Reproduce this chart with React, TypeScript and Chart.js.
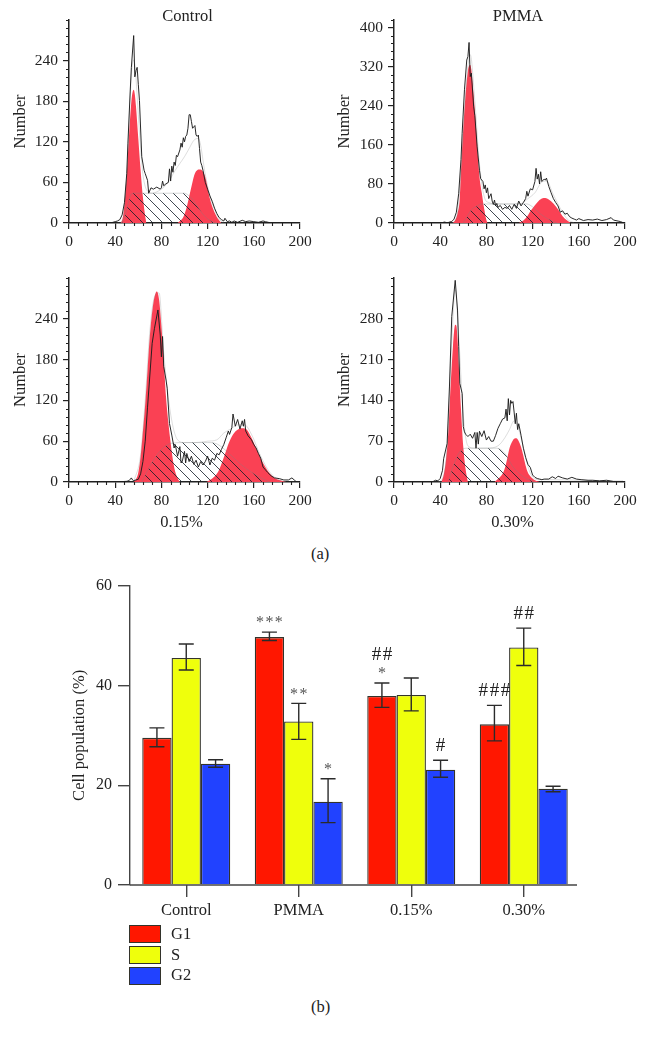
import React, { useEffect, useRef } from "react";
import { Chart, registerables } from "chart.js";

Chart.register(...registerables);

const FONT = '"Liberation Serif", serif';
const INK = "#222222";
const RED_FILL = "#fa4154";

// ---- Histogram: Control ----
const controlX = [0,36,38,40,42,44,46,48,50,51,53,54,56,57,58,59,60,61,63,65,66,68,69,71,73,76,79,80,81,82,84,86,87,88,89,90,91,92,93,94,96,97,98,99,100,101,102,103,104,105,106,107,108,109,110,111,112,113,114,115,116,118,120,122,124,126,128,130,132,134,135,137,139,141,143,146,150,153,156,160,164,168,170,175,200];
const controlY = [0,0,1,2,3,5,12,30,73,117,195,230,277,216,225,230,205,181,98,78,73,63,44,52,50,53,50,52,62,55,58,60,80,62,84,75,90,85,100,98,108,118,112,126,120,128,130,140,160,160,150,140,142,144,130,128,130,110,90,85,78,60,50,40,32,22,14,8,5,3,7,2,3,1,3,1,4,2,3,2,1,3,2,0,0];
const controlG1X = [45,46,47,48,50,52,54,55,56,57,58,60,62,64,66,67];
const controlG1Y = [0,4,12,28,72,130,180,193,197,190,172,125,78,38,10,0];
const controlG2X = [94,96,99,102,105,109,113,115,118,122,125,128,132];
const controlG2Y = [0,3,9,24,46,73,79,78,68,36,20,9,0];
const controlSX = [46,48,50,52,54,56,60,70,80,90,100,104,108,112,116,120,124,128];
const controlSY = [0,8,20,34,43,44,44,44,44,44,44,40,33,22,13,6,2,0];
const controlFitX = [44,46,48,50,52,54,55,56,57,58,60,62,64,66,68,72,76,80,84,88,92,96,100,104,108,112,114,116,118,122,126,130,134];
const controlFitY = [0,3,22,70,150,218,236,241,234,214,160,110,72,54,47,44,46,50,56,66,78,88,98,110,122,125,115,93,72,40,20,6,0];

// ---- Histogram: PMMA ----
const pmmaX = [0,40,44,46,48,50,52,54,56,58,59,61,63,64,65,66,67,69,70,72,74,75,77,78,79,80,81,82,84,85,86,87,88,89,90,92,94,96,98,100,102,104,106,108,110,112,114,115,116,118,120,122,123,124,125,126,127,128,130,131,132,134,136,138,140,142,144,146,148,150,152,154,156,158,160,164,168,172,176,180,184,188,190,194,196,198,200];
const pmmaY = [0,0,2,0,2,3,8,22,60,130,184,273,334,341,370,300,307,238,220,156,108,91,85,70,78,62,72,50,60,45,38,47,35,40,32,36,28,32,30,36,28,38,30,45,35,42,50,65,55,70,68,85,112,90,100,80,105,85,90,88,92,75,62,50,42,35,22,25,18,20,13,10,8,6,9,5,7,6,8,5,7,11,6,4,3,1,0];
const pmmaG1X = [51,53,55,57,58,60,62,64,65,66,67,68,70,72,74,76,78,80,81];
const pmmaG1Y = [0,6,20,52,108,195,265,312,322,324,314,288,232,162,95,62,30,6,0];
const pmmaG2X = [108,112,116,118,120,124,128,131,134,138,142,146,150,153];
const pmmaG2Y = [0,5,16,24,30,42,50,51,48,40,28,14,5,0];
const pmmaSX = [60,64,67,72,76,85,100,115,120,126,135,141];
const pmmaSY = [0,16,27,35,39,39,39,39,33,20,6,0];
const pmmaFitX = [50,54,58,62,66,70,74,78,82,90,100,110,116,122,128,132,138,144,150,156];
const pmmaFitY = [0,10,102,268,345,250,120,55,42,39,39,40,50,62,84,86,58,30,8,0];

// ---- Histogram: 0.15% ----
const p15X = [0,40,50,52,54,55,56,58,60,62,64,66,68,72,74,77,79,80,81,82,84,85,87,89,91,92,94,96,97,98,100,101,102,104,106,108,110,112,114,116,118,120,122,124,126,128,130,132,134,136,138,139,141,142,144,146,148,150,151,152,153,155,158,160,162,164,166,168,170,172,175,178,182,186,190,193,195,197,200];
const p15Y = [0,0,1,2,6,3,2,3,4,12,30,60,110,204,226,253,216,184,214,170,150,138,86,69,50,55,38,52,28,30,45,28,42,30,38,26,32,22,30,25,30,38,25,35,32,42,40,48,55,65,75,70,80,100,82,92,78,90,82,92,75,68,62,55,50,42,35,22,18,14,9,6,5,3,3,6,3,0,0];
const p15G1X = [56,58,60,62,64,66,68,70,72,74,76,78,80,82,84,86,88,90,92,94,96];
const p15G1Y = [0,4,14,38,75,115,165,215,250,272,280,268,230,180,125,88,58,32,15,6,0];
const p15G2X = [119,122,126,130,134,136,138,142,146,150,154,158,162,166,170,174,178,182,188];
const p15G2Y = [0,3,8,18,36,46,56,70,77,79,77,65,50,35,22,12,6,3,0];
const p15SX = [63,73,82,89,100,108,120,128,136,148,160,171,174];
const p15SY = [0,32,51,57,58,58,58,56,46,27,12,2,0];
const p15FitX = [56,62,66,70,74,78,82,88,94,100,110,120,128,134,140,146,152,158,166,174,182,188];
const p15FitY = [0,40,120,222,272,278,190,100,62,58,58,60,62,72,78,84,84,70,38,14,3,0];

// ---- Histogram: 0.30% ----
const p30X = [0,32,34,36,38,40,42,43,46,48,50,53,55,56,57,59,60,61,62,64,66,68,70,71,72,73,74,76,78,80,82,84,86,88,90,92,94,96,97,98,99,100,101,102,103,104,105,106,107,108,110,112,114,116,118,120,122,124,126,128,130,134,137,140,142,146,150,154,158,162,168,172,178,184,190,198,200];
const p30Y = [0,0,1,3,2,6,20,40,66,163,284,346,295,232,169,152,95,86,82,78,82,75,85,58,85,65,87,78,88,72,78,70,70,80,92,100,108,110,125,105,143,115,140,135,138,120,100,118,90,100,80,58,42,30,25,12,8,6,5,4,5,5,9,6,10,7,5,8,5,4,3,3,2,3,1,1,0];
const p30G1X = [41,43,45,47,49,51,52,53,54,55,56,58,60,62,64];
const p30G1Y = [0,12,38,85,165,232,258,270,268,245,205,125,60,22,0];
const p30G2X = [87,90,94,96,98,100,102,104,106,108,110,112,114,116,118,122,126];
const p30G2Y = [0,5,14,24,40,58,68,74,75,70,60,45,28,16,10,3,0];
const p30SX = [47,51,57,63,75,89,96,103,112,118,122];
const p30SY = [0,26,52,58,58,58,49,26,9,3,0];
const p30FitX = [38,42,46,50,53,56,60,64,70,80,90,96,100,104,108,112,118,126,140,160,180,200];
const p30FitY = [0,6,60,240,330,250,115,62,58,58,62,76,90,105,90,60,15,4,4,3,2,0];

// ---- Axes of the histograms ----
const xMajor = [0,40,80,120,160,200];
const xMinorStep = 8;
const xLimit = 200;
const controlYMajor = [0,60,120,180,240];
const pmmaYMajor = [0,80,160,240,320,400];
const p15YMajor = [0,60,120,180,240];
const p30YMajor = [0,70,140,210,280];

// ---- Bars ----
const groups = ["Control","PMMA","0.15%","0.30%"];
const seriesNames = ["G1","S","G2"];
const g1Values = [29.5,49.7,37.9,32.2];
const sValues = [45.5,32.8,38.1,47.6];
const g2Values = [24.3,16.7,23.1,19.3];
const g1High = [31.5,50.7,40.5,36.0];
const g1Low = [27.7,49.0,35.6,28.9];
const sHigh = [48.3,36.4,41.5,51.5];
const sLow = [43.1,29.2,34.9,44.0];
const g2High = [25.1,21.3,25.0,19.8];
const g2Low = [23.6,12.5,21.6,18.7];
const g1Stars = ["","***","*",""];
const sStars = ["","**","",""];
const g2Stars = ["","*","",""];
const g1Hashes = ["","","##","###"];
const sHashes = ["","","","##"];
const g2Hashes = ["","","#",""];
const barColors = ["#ff1700","#efff0c","#2142ff"];

const zip = (xs: number[], ys: number[]) => xs.map((x, i) => ({ x, y: ys[i] }));

function makeHatch() {
  const c = document.createElement("canvas");
  c.width = 10;
  c.height = 10;
  const g = c.getContext("2d")!;
  g.strokeStyle = "rgba(20,30,40,0.9)";
  g.lineWidth = 0.9;
  g.beginPath();
  g.moveTo(-2, -2);
  g.lineTo(12, 12);
  g.moveTo(-2, 8);
  g.lineTo(2, 12);
  g.moveTo(8, -2);
  g.lineTo(12, 2);
  g.stroke();
  return g.createPattern(c, "repeat")!;
}

const minorTicks = {
  id: "minorTicks",
  afterLayout(chart: any, _a: any, opts: any) {
    const t = chart.titleBlock;
    if (t) {
      t.left = chart.chartArea.left + opts.titleShift * 2;
      t.right = chart.chartArea.right;
    }
  },
  afterDraw(chart: any, _a: any, opts: any) {
    const { ctx, scales } = chart;
    ctx.save();
    ctx.strokeStyle = INK;
    ctx.lineWidth = 1.1;
    ctx.beginPath();
    for (let v = 0; v <= scales.x.max; v += opts.xStep) {
      if (opts.xMajor.includes(v)) continue;
      const p = Math.round(scales.x.getPixelForValue(v)) + 0.5;
      ctx.moveTo(p, scales.x.top);
      ctx.lineTo(p, scales.x.top + 3);
    }
    for (let v = 0; v <= scales.y.max; v += opts.yStep) {
      if (opts.yMajor.includes(v)) continue;
      const p = Math.round(scales.y.getPixelForValue(v)) + 0.5;
      ctx.moveTo(scales.y.right, p);
      ctx.lineTo(scales.y.right - 3, p);
    }
    ctx.stroke();
    ctx.restore();
  },
};

type HistProps = {
  left: number; top: number; width: number; height: number;
  yWidth: number; xHeight: number; padTop: number; padRight: number;
  title: string; titleBelow?: boolean; titleShift: number; yTitlePad: number;
  yMax: number; yMajor: number[]; yStep: number;
  lineX: number[]; lineY: number[];
  g1X: number[]; g1Y: number[]; g2X: number[]; g2Y: number[];
  sX: number[]; sY: number[]; fitX: number[]; fitY: number[];
};

function Histogram(p: HistProps) {
  const ref = useRef<HTMLCanvasElement>(null);
  useEffect(() => {
    const font = { family: FONT, size: 15.5, lineHeight: 20 / 15.5 };
    const wordFont = { family: FONT, size: 16.5, lineHeight: 20 / 16.5, weight: "normal" as const };
    const smooth = { cubicInterpolationMode: "monotone", pointRadius: 0 };
    const red = { ...smooth, borderWidth: 0, backgroundColor: RED_FILL, fill: "origin" };
    const chart = new Chart(ref.current!, {
      type: "line",
      data: {
        datasets: [
          { label: "Histogram", data: zip(p.lineX, p.lineY), borderColor: "#1d1d1d", borderWidth: 0.95, pointRadius: 0, fill: false, order: 0 },
          { label: "Fit", data: zip(p.fitX, p.fitY), ...smooth, borderColor: "rgba(130,130,130,0.38)", borderWidth: 0.7, fill: false, order: 1 },
          { label: "S", data: zip(p.sX, p.sY), ...smooth, borderColor: "rgba(120,130,130,0.45)", borderWidth: 0.7, backgroundColor: makeHatch(), fill: "origin", order: 2 },
          { label: "G1", data: zip(p.g1X, p.g1Y), ...red, order: 3 },
          { label: "G2", data: zip(p.g2X, p.g2Y), ...red, order: 4 },
        ] as any,
      },
      options: {
        animation: false,
        responsive: false,
        layout: { padding: { top: p.padTop, right: p.padRight, left: 0, bottom: 0 } },
        plugins: {
          legend: { display: false },
          tooltip: { enabled: false },
          title: {
            display: true,
            text: p.title,
            position: p.titleBelow ? "bottom" : "top",
            fullSize: false,
            color: INK,
            font: wordFont,
            padding: p.titleBelow ? { top: -7, bottom: 7 } : { top: 7, bottom: -7 },
          },
          minorTicks: { xStep: xMinorStep, xMajor, yStep: p.yStep, yMajor: p.yMajor, titleShift: p.titleShift },
        } as any,
        scales: {
          x: {
            type: "linear",
            min: 0,
            max: xLimit,
            border: { color: INK, width: 1.5 },
            grid: { drawOnChartArea: false, tickLength: 6, tickColor: INK, lineWidth: 1.2 },
            ticks: { color: INK, font, padding: 3, maxRotation: 0, autoSkip: false },
            afterBuildTicks: (s: any) => { s.ticks = xMajor.map((value) => ({ value })); },
            afterFit: (s: any) => { s.height = p.xHeight; },
          },
          y: {
            type: "linear",
            min: 0,
            max: p.yMax,
            border: { color: INK, width: 1.5 },
            grid: { drawOnChartArea: false, tickLength: 6, tickColor: INK, lineWidth: 1.2 },
            title: { display: true, text: "Number", color: INK, font: wordFont, padding: { top: p.yTitlePad, bottom: 0 } },
            ticks: { color: INK, font, padding: 5, autoSkip: false },
            afterBuildTicks: (s: any) => { s.ticks = p.yMajor.map((value) => ({ value })); },
            afterFit: (s: any) => { s.width = p.yWidth; },
          },
        },
      },
      plugins: [minorTicks],
    } as any);
    return () => chart.destroy();
  }, []);
  return (
    <canvas
      ref={ref}
      width={p.width}
      height={p.height}
      style={{ position: "absolute", left: p.left, top: p.top, width: p.width, height: p.height }}
    />
  );
}

const errorBars = {
  id: "errorBars",
  afterDatasetsDraw(chart: any, _a: any, opts: any) {
    const { ctx, scales } = chart;
    const y = scales.y;
    ctx.save();
    chart.data.datasets.forEach((_d: any, ds: number) => {
      chart.getDatasetMeta(ds).data.forEach((bar: any, i: number) => {
        const hi = y.getPixelForValue(opts.high[ds][i]);
        const lo = y.getPixelForValue(opts.low[ds][i]);
        ctx.strokeStyle = "#2b2b2b";
        ctx.lineWidth = 1.4;
        ctx.beginPath();
        ctx.moveTo(bar.x, hi);
        ctx.lineTo(bar.x, lo);
        ctx.moveTo(bar.x - 7.5, hi);
        ctx.lineTo(bar.x + 7.5, hi);
        ctx.moveTo(bar.x - 7.5, lo);
        ctx.lineTo(bar.x + 7.5, lo);
        ctx.stroke();
        ctx.textAlign = "center";
        ctx.textBaseline = "middle";
        const star = opts.stars[ds][i];
        const hash = opts.hashes[ds][i];
        if (star) {
          ctx.fillStyle = "#555555";
          ctx.font = `16px ${FONT}`;
          ctx.fillText(star.split("").join("\u200a"), bar.x, hi - 9);
        }
        if (hash) {
          ctx.fillStyle = "#222222";
          ctx.font = `19px ${FONT}`;
          ctx.fillText(hash.split("").join("\u200a"), bar.x, hi - (star ? 28 : 14));
        }
      });
    });
    ctx.restore();
  },
};

const xAxisEnd = {
  id: "xAxisEnd",
  afterDraw(chart: any) {
    const { ctx, chartArea } = chart;
    ctx.save();
    ctx.strokeStyle = "#444444";
    ctx.lineWidth = 1.4;
    ctx.beginPath();
    ctx.moveTo(chartArea.left, chartArea.bottom);
    ctx.lineTo(chartArea.right - 3, chartArea.bottom);
    ctx.stroke();
    ctx.restore();
  },
};

function Bars() {
  const ref = useRef<HTMLCanvasElement>(null);
  useEffect(() => {
    const font = { family: FONT, size: 16.5, lineHeight: 20 / 16.5 };
    const values = [g1Values, sValues, g2Values];
    const chart = new Chart(ref.current!, {
      type: "bar",
      data: {
        labels: groups,
        datasets: seriesNames.map((label, i) => ({
          label,
          data: values[i],
          backgroundColor: barColors[i],
          borderColor: "#33332b",
          borderWidth: 1.3,
          categoryPercentage: 0.782,
          barPercentage: 1,
        })),
      },
      options: {
        animation: false,
        responsive: false,
        layout: { padding: { top: 15, right: 66, left: 0, bottom: 0 } },
        plugins: {
          legend: { display: false },
          tooltip: { enabled: false },
          errorBars: {
            high: [g1High, sHigh, g2High],
            low: [g1Low, sLow, g2Low],
            stars: [g1Stars, sStars, g2Stars],
            hashes: [g1Hashes, sHashes, g2Hashes],
          },
        } as any,
        scales: {
          x: {
            border: { display: false },
            grid: { offset: false, drawOnChartArea: false, tickLength: 12, tickColor: "#444444", lineWidth: 1.4 },
            ticks: { color: INK, font, padding: 4, maxRotation: 0, autoSkip: false },
            afterFit: (s: any) => { s.height = 40; },
          },
          y: {
            min: 0,
            max: 60,
            border: { color: "#444444", width: 1.4 },
            grid: { drawOnChartArea: false, tickLength: 12, tickColor: "#444444", lineWidth: 1.4 },
            title: { display: true, text: "Cell population (%)", color: INK, font, padding: { top: 70, bottom: 0 } },
            ticks: { color: INK, font: { ...font, size: 16 }, padding: 6, stepSize: 20 },
            afterFit: (s: any) => { s.width = 130; },
          },
        },
      },
      plugins: [errorBars, xAxisEnd],
    } as any);
    return () => chart.destroy();
  }, []);
  return (
    <canvas
      ref={ref}
      width={646}
      height={355}
      style={{ position: "absolute", left: 0, top: 570, width: 646, height: 355 }}
    />
  );
}

const textStyle: React.CSSProperties = {
  position: "absolute",
  fontFamily: FONT,
  fontSize: 16.5,
  lineHeight: "20px",
  color: INK,
  whiteSpace: "nowrap",
};

export default function App() {
  return (
    <div style={{ position: "absolute", left: 0, top: 0, width: 646, height: 1040, background: "#fff", overflow: "hidden" }}>
      <Histogram
        left={0} top={0} width={320} height={260} yWidth={69} xHeight={37} padTop={0} padRight={20}
        title="Control" titleShift={3} yTitlePad={11} yMax={300} yMajor={controlYMajor} yStep={12}
        lineX={controlX} lineY={controlY} g1X={controlG1X} g1Y={controlG1Y} g2X={controlG2X} g2Y={controlG2Y}
        sX={controlSX} sY={controlSY} fitX={controlFitX} fitY={controlFitY}
      />
      <Histogram
        left={320} top={0} width={326} height={260} yWidth={74} xHeight={37} padTop={0} padRight={21}
        title="PMMA" titleShift={8.5} yTitlePad={15} yMax={416} yMajor={pmmaYMajor} yStep={16}
        lineX={pmmaX} lineY={pmmaY} g1X={pmmaG1X} g1Y={pmmaG1Y} g2X={pmmaG2X} g2Y={pmmaG2Y}
        sX={pmmaSX} sY={pmmaSY} fitX={pmmaFitX} fitY={pmmaFitY}
      />
      <Histogram
        left={0} top={260} width={320} height={280} yWidth={69} xHeight={38} padTop={18} padRight={20}
        title="0.15%" titleBelow titleShift={-3} yTitlePad={11} yMax={300} yMajor={p15YMajor} yStep={12}
        lineX={p15X} lineY={p15Y} g1X={p15G1X} g1Y={p15G1Y} g2X={p15G2X} g2Y={p15G2Y}
        sX={p15SX} sY={p15SY} fitX={p15FitX} fitY={p15FitY}
      />
      <Histogram
        left={320} top={260} width={326} height={280} yWidth={74} xHeight={38} padTop={18} padRight={21}
        title="0.30%" titleBelow titleShift={3} yTitlePad={15} yMax={350} yMajor={p30YMajor} yStep={14}
        lineX={p30X} lineY={p30Y} g1X={p30G1X} g1Y={p30G1Y} g2X={p30G2X} g2Y={p30G2Y}
        sX={p30SX} sY={p30SY} fitX={p30FitX} fitY={p30FitY}
      />
      <div style={{ ...textStyle, left: 311, top: 544 }}>(a)</div>
      <Bars />
      {seriesNames.map((name, i) => (
        <React.Fragment key={name}>
          <div
            style={{
              position: "absolute",
              left: 129,
              top: 925 + i * 21,
              width: 30,
              height: 16,
              background: barColors[i],
              border: "1px solid #33332b",
            }}
          />
          <div style={{ ...textStyle, left: 171, top: 924 + i * 20.5 }}>{name}</div>
        </React.Fragment>
      ))}
      <div style={{ ...textStyle, left: 311, top: 997 }}>(b)</div>
    </div>
  );
}
